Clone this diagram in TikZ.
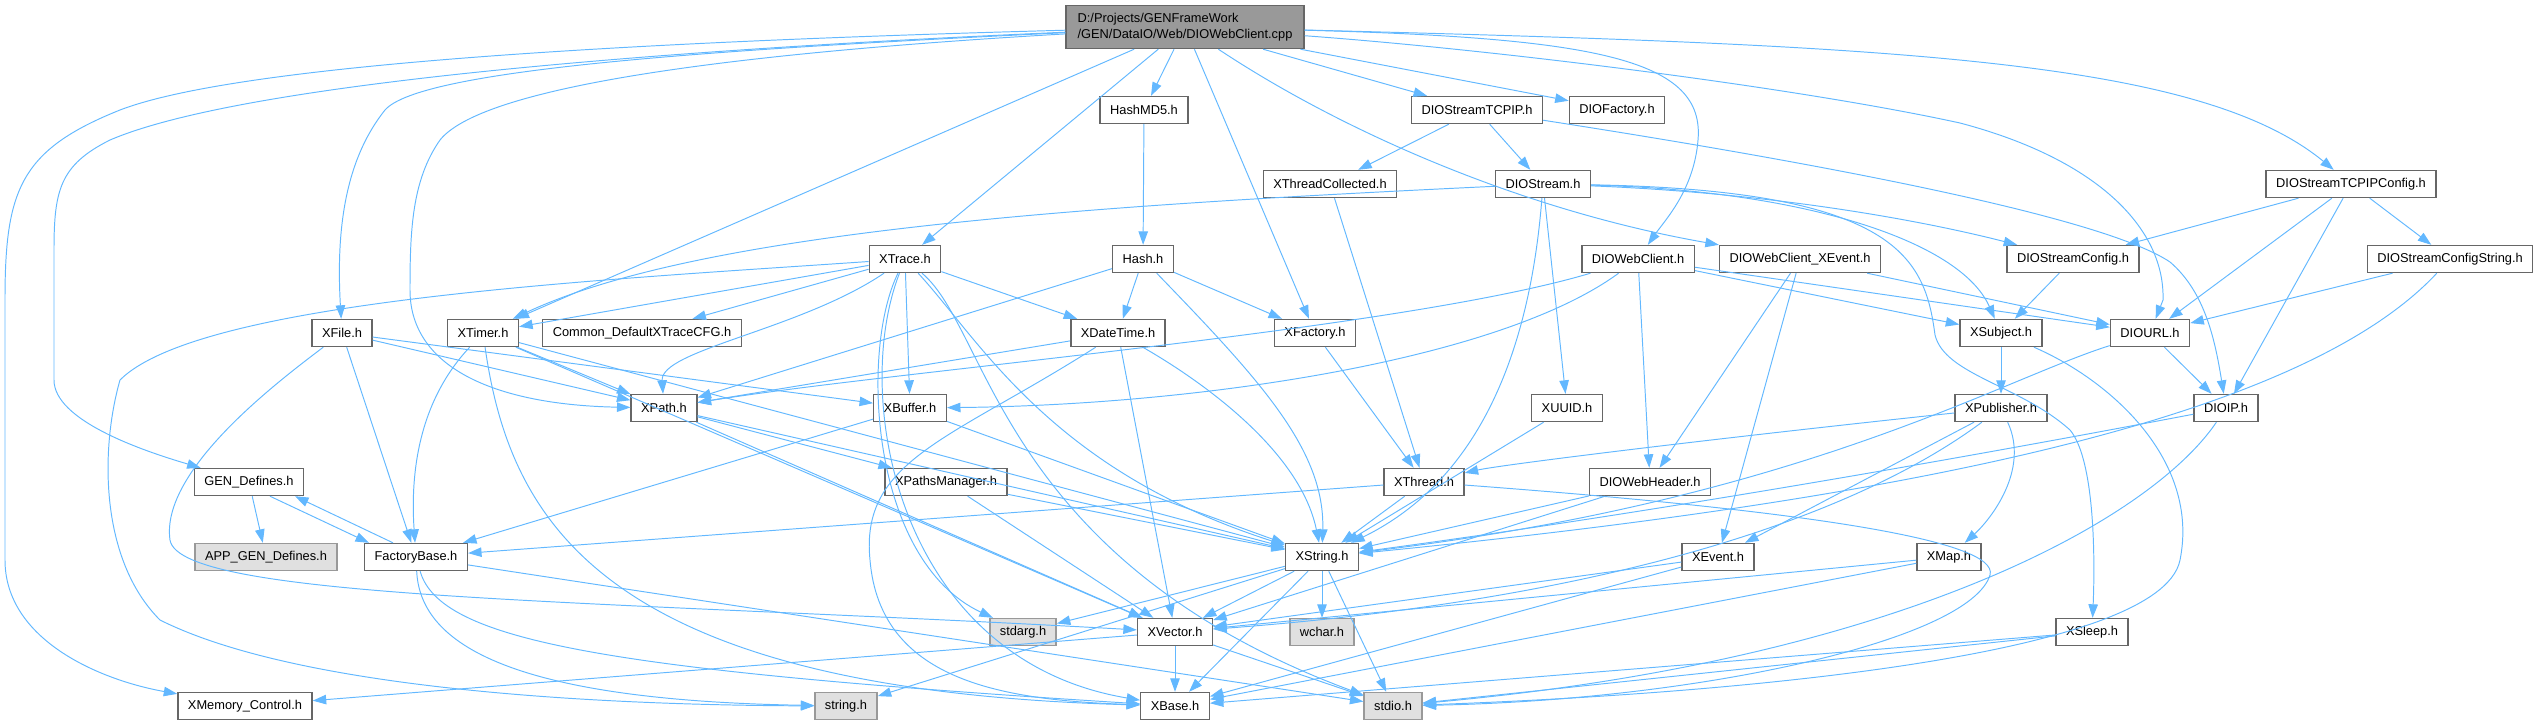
\documentclass[tikz,border=0pt]{standalone}
\usepackage{fontspec}
\setmainfont{Liberation Sans}
\usepackage{xcolor}
\usepackage{tikz}
\usetikzlibrary{arrows.meta}

\definecolor{edgeblue}{HTML}{63B8FF}
\definecolor{boxline}{HTML}{666666}
\definecolor{sysline}{HTML}{999999}
\definecolor{sysfill}{HTML}{E0E0E0}
\definecolor{srcfill}{HTML}{999999}

\begin{document}
\begin{tikzpicture}[
  x=0.02cm,y=-0.02cm,
  dep/.style={draw=edgeblue,line width=0.55pt,
    -{Triangle[length=0.27cm,width=0.19cm]}},
  hdr/.style={draw=boxline,fill=white,line width=0.8pt,
    minimum height=0.54cm,inner xsep=0.2cm,inner ysep=0pt},
  sys/.style={hdr,draw=sysline,fill=sysfill},
  every node/.style={font=\fontsize{7.3}{8.8}\selectfont}
]
  \useasboundingbox (0,0) rectangle (2537,725);

  % row 0
  \node[hdr,fill=srcfill,align=left,minimum height=0.86cm,
    minimum width=4.76cm] (src) at (1185,27)
    {D:/Projects/GENFrameWork\\/GEN/DataIO/Web/DIOWebClient.cpp};
  % row 1
  \node[hdr] (hashmd5) at (1144,110) {HashMD5.h};
  \node[hdr] (tcpip) at (1477,110) {DIOStreamTCPIP.h};
  \node[hdr] (diofac) at (1617,110) {DIOFactory.h};
  % row 2
  \node[hdr] (xthcoll) at (1330,184) {XThreadCollected.h};
  \node[hdr] (diostream) at (1543,184) {DIOStream.h};
  \node[hdr] (tcpcfg) at (2351,184) {DIOStreamTCPIPConfig.h};
  % row 3
  \node[hdr] (xtrace) at (905,259) {XTrace.h};
  \node[hdr] (hash) at (1143,259) {Hash.h};
  \node[hdr] (webcl) at (1638,259) {DIOWebClient.h};
  \node[hdr] (webxev) at (1800,259) {DIOWebClient\_XEvent.h};
  \node[hdr] (dioscfg) at (2073,259) {DIOStreamConfig.h};
  \node[hdr] (dioscfgstr) at (2450,259) {DIOStreamConfigString.h};
  % row 4
  \node[hdr] (xfile) at (342,333) {XFile.h};
  \node[hdr] (xtimer) at (483,333) {XTimer.h};
  \node[hdr] (tracecfg) at (642,333) {Common\_DefaultXTraceCFG.h};
  \node[hdr] (xdatetime) at (1118,333) {XDateTime.h};
  \node[hdr] (xfactory) at (1315,333) {XFactory.h};
  \node[hdr] (xsubject) at (2001,333) {XSubject.h};
  \node[hdr] (diourl) at (2150,333) {DIOURL.h};
  % row 5
  \node[hdr] (xpath) at (664,408) {XPath.h};
  \node[hdr] (xbuffer) at (910,408) {XBuffer.h};
  \node[hdr] (xuuid) at (1567,408) {XUUID.h};
  \node[hdr] (xpublisher) at (2001,408) {XPublisher.h};
  \node[hdr] (dioip) at (2226,408) {DIOIP.h};
  % row 6
  \node[hdr] (gendef) at (249,482) {GEN\_Defines.h};
  \node[hdr] (xpathsmgr) at (946,482) {XPathsManager.h};
  \node[hdr] (xthread) at (1424,482) {XThread.h};
  \node[hdr] (webhdr) at (1650,482) {DIOWebHeader.h};
  % row 7
  \node[sys] (appgen) at (266,557) {APP\_GEN\_Defines.h};
  \node[hdr] (fbase) at (416,557) {FactoryBase.h};
  \node[hdr] (xstring) at (1322,557) {XString.h};
  \node[hdr] (xevent) at (1718,557) {XEvent.h};
  \node[hdr] (xmap) at (1949,557) {XMap.h};
  % row 8
  \node[sys] (stdarg) at (1023,632) {stdarg.h};
  \node[hdr] (xvector) at (1175,632) {XVector.h};
  \node[sys] (wchar) at (1322,632) {wchar.h};
  \node[hdr] (xsleep) at (2092,632) {XSleep.h};
  % row 9
  \node[hdr] (xmem) at (245,706) {XMemory\_Control.h};
  \node[sys] (stringh) at (846,706) {string.h};
  \node[hdr] (xbase) at (1175,706) {XBase.h};
  \node[sys] (stdio) at (1393,706) {stdio.h};

  % source file
  \draw[dep] (src) .. controls (700,40) and (250,60) .. (120,110)
    .. controls (20,150) and (5,190) .. (5,300) -- (5,560)
    .. controls (5,640) and (100,680) .. (xmem);
  \draw[dep] (src) .. controls (700,48) and (250,80) .. (110,140)
    .. controls (60,165) and (54,190) .. (54,250) -- (54,380)
    .. controls (54,420) and (140,450) .. (gendef);
  \draw[dep] (src) .. controls (700,50) and (420,70) .. (385,110)
    .. controls (345,160) and (336,230) .. (xfile);
  \draw[dep] (src) .. controls (700,55) and (480,90) .. (440,140)
    .. controls (412,180) and (410,230) .. (410,290)
    .. controls (410,370) and (500,405) .. (xpath);
  \draw[dep] (src) -- (xtimer);
  \draw[dep] (src) -- (xtrace);
  \draw[dep] (src) -- (hashmd5);
  \draw[dep] (src) -- (xfactory);
  \draw[dep] (src) .. controls (1340,130) and (1520,210) .. (webxev);
  \draw[dep] (src) -- (tcpip);
  \draw[dep] (src) -- (diofac);
  \draw[dep] (src) .. controls (1600,38) and (1705,60) .. (1698,140)
    .. controls (1694,190) and (1665,220) .. (webcl);
  \draw[dep] (src) .. controls (1500,50) and (1800,88) .. (1960,123)
    .. controls (2100,160) and (2165,230) .. (2163,300) -- (diourl);
  \draw[dep] (src) .. controls (1900,45) and (2200,60) .. (tcpcfg);

  % network streams
  \draw[dep] (hashmd5) -- (hash);
  \draw[dep] (tcpip) -- (xthcoll);
  \draw[dep] (tcpip) -- (diostream);
  \draw[dep] (tcpip) .. controls (1800,160) and (2100,215) .. (2170,262)
    .. controls (2205,292) and (2215,340) .. (dioip);
  \draw[dep] (xthcoll) -- (xthread);
  \draw[dep] (diostream) .. controls (1100,205) and (700,230) .. (xtimer);
  \draw[dep] (diostream) .. controls (1530,350) and (1480,480) .. (xstring);
  \draw[dep] (diostream) -- (xuuid);
  \draw[dep] (diostream) .. controls (1750,192) and (1900,215) .. (dioscfg);
  \draw[dep] (diostream) .. controls (1800,190) and (1960,240) .. (xsubject);
  \draw[dep] (diostream) .. controls (1900,190) and (1925,260) .. (1935,335)
    .. controls (1945,375) and (2020,385) .. (2070,430)
    .. controls (2095,460) and (2095,560) .. (xsleep);
  \draw[dep] (tcpcfg) -- (dioscfg);
  \draw[dep] (tcpcfg) -- (diourl);
  \draw[dep] (tcpcfg) -- (dioip);
  \draw[dep] (tcpcfg) -- (dioscfgstr);
  \draw[dep] (dioscfg) -- (xsubject);
  \draw[dep] (dioscfgstr) -- (diourl);
  \draw[dep] (dioscfgstr) .. controls (2300,420) and (1900,500) .. (xstring);
  \draw[dep] (diourl) -- (dioip);
  \draw[dep] (diourl) .. controls (2000,380) and (1800,500) .. (xstring);
  \draw[dep] (dioip) .. controls (1900,470) and (1600,520) .. (xstring);
  \draw[dep] (dioip) .. controls (2150,520) and (1900,660) .. (stdio);

  % web client
  \draw[dep] (webcl) .. controls (1400,330) and (900,370) .. (xpath);
  \draw[dep] (webcl) .. controls (1500,360) and (1200,405) .. (xbuffer);
  \draw[dep] (webcl) -- (webhdr);
  \draw[dep] (webcl) -- (xsubject);
  \draw[dep] (webcl) -- (diourl);
  \draw[dep] (webxev) -- (webhdr);
  \draw[dep] (webxev) -- (xevent);
  \draw[dep] (webxev) -- (diourl);
  \draw[dep] (webhdr) -- (xstring);
  \draw[dep] (webhdr) -- (xvector);

  % subject / publisher
  \draw[dep] (xsubject) -- (xpublisher);
  \draw[dep] (xsubject) .. controls (2110,380) and (2200,460) .. (2180,560)
    .. controls (2160,660) and (1700,695) .. (stdio);
  \draw[dep] (xpublisher) .. controls (1700,440) and (1500,465) .. (xthread);
  \draw[dep] (xpublisher) -- (xevent);
  \draw[dep] (xpublisher) .. controls (2030,470) and (1990,520) .. (xmap);
  \draw[dep] (xpublisher) .. controls (1850,520) and (1600,600) .. (xvector);
  \draw[dep] (xmap) -- (xvector);
  \draw[dep] (xmap) -- (xbase);
  \draw[dep] (xevent) -- (xvector);
  \draw[dep] (xevent) -- (xbase);
  \draw[dep] (xsleep) -- (xbase);
  \draw[dep] (xsleep) -- (stdio);
  \draw[dep] (xuuid) -- (xstring);

  % threads
  \draw[dep] (xthread) -- (xstring);
  \draw[dep] (xthread) -- (fbase);
  \draw[dep] (xthread) .. controls (1800,510) and (2000,540) .. (1990,575)
    .. controls (1970,640) and (1700,700) .. (stdio);
  \draw[dep] (xfactory) -- (xthread);

  % hash
  \draw[dep] (hash) -- (xdatetime);
  \draw[dep] (hash) -- (xfactory);
  \draw[dep] (hash) .. controls (1260,380) and (1325,450) .. (xstring);
  \draw[dep] (hash) -- (xpath);

  % trace
  \draw[dep] (xtrace) -- (xtimer);
  \draw[dep] (xtrace) -- (tracecfg);
  \draw[dep] (xtrace) -- (xdatetime);
  \draw[dep] (xtrace) -- (xbuffer);
  \draw[dep] (xtrace) .. controls (800,330) and (660,350) .. (xpath);
  \draw[dep] (xtrace) .. controls (980,340) and (1050,470) .. (xstring);
  \draw[dep] (xtrace) .. controls (850,400) and (900,660) .. (xbase);
  \draw[dep] (xtrace) .. controls (990,330) and (1000,560) .. (stdio);
  \draw[dep] (xtrace) .. controls (860,350) and (870,560) .. (stdarg);
  \draw[dep] (xtrace) .. controls (600,280) and (200,300) .. (120,380)
    .. controls (100,450) and (100,560) .. (160,620)
    .. controls (300,690) and (600,705) .. (stringh);

  % timer, file, date
  \draw[dep] (xtimer) -- (xpath);
  \draw[dep] (xtimer) .. controls (420,400) and (410,470) .. (fbase);
  \draw[dep] (xtimer) .. controls (510,520) and (600,690) .. (xbase);
  \draw[dep] (xtimer) -- (xvector);
  \draw[dep] (xtimer) -- (xstring);
  \draw[dep] (xfile) -- (xpath);
  \draw[dep] (xfile) -- (xbuffer);
  \draw[dep] (xfile) -- (fbase);
  \draw[dep] (xfile) .. controls (280,380) and (160,470) .. (170,540)
    .. controls (180,600) and (600,600) .. (xvector);
  \draw[dep] (xdatetime) -- (xpath);
  \draw[dep] (xdatetime) .. controls (1200,380) and (1300,450) .. (xstring);
  \draw[dep] (xdatetime) -- (xvector);
  \draw[dep] (xdatetime) .. controls (950,440) and (860,460) .. (870,560)
    .. controls (880,680) and (1000,700) .. (xbase);

  % paths and buffers
  \draw[dep] (xpath) -- (xpathsmgr);
  \draw[dep] (xpath) -- (xstring);
  \draw[dep] (xpath) -- (xvector);
  \draw[dep] (xpathsmgr) -- (xstring);
  \draw[dep] (xpathsmgr) -- (xvector);
  \draw[dep] (xbuffer) -- (xstring);
  \draw[dep] (xbuffer) -- (fbase);

  % defines and base
  \draw[dep] (gendef) -- (appgen);
  \draw[dep] ([xshift=0.42cm]gendef.south) -- ([xshift=-0.94cm]fbase.north);
  \draw[dep] ([xshift=-0.46cm]fbase.north) -- ([xshift=0.92cm]gendef.south);
  \draw[dep] (fbase) .. controls (420,640) and (500,700) .. (stringh);
  \draw[dep] (fbase) .. controls (440,640) and (600,670) .. (xbase);
  \draw[dep] (fbase) -- (stdio);

  % strings and vectors
  \draw[dep] (xstring) -- (stdarg);
  \draw[dep] (xstring) -- (xvector);
  \draw[dep] (xstring) -- (wchar);
  \draw[dep] (xstring) -- (xbase);
  \draw[dep] (xstring) -- (stdio);
  \draw[dep] (xstring) -- (stringh);
  \draw[dep] (xvector) -- (xmem);
  \draw[dep] (xvector) -- (xbase);
  \draw[dep] (xvector) -- (stdio);
\end{tikzpicture}
\end{document}
